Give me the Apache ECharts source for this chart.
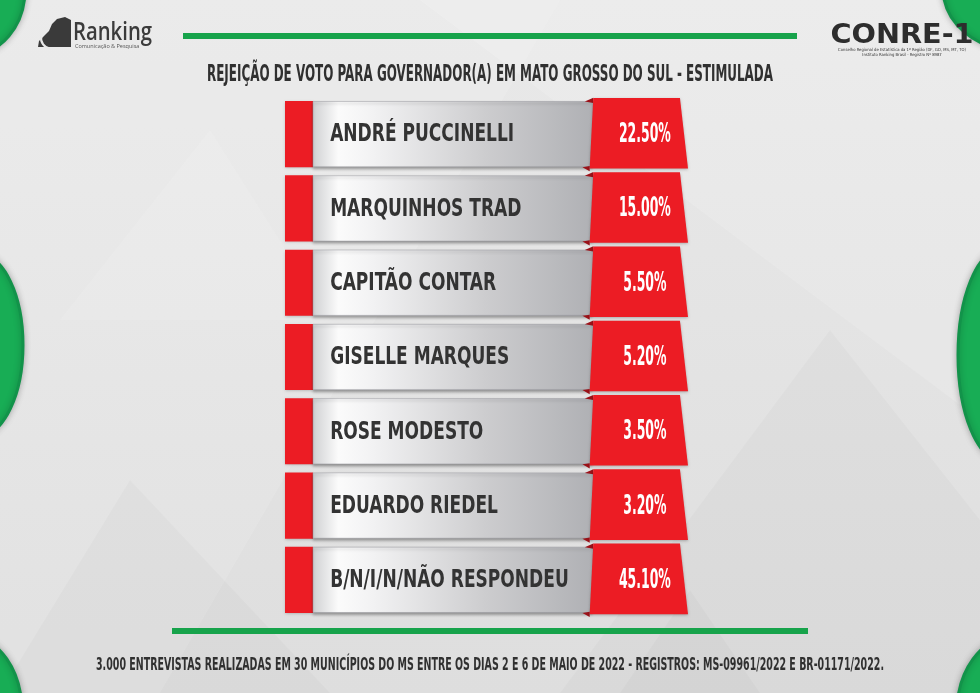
<!DOCTYPE html>
<html>
<head>
<meta charset="utf-8">
<script src="https://cdn.jsdelivr.net/npm/echarts@6/dist/echarts.min.js"></script>
<style>html,body{margin:0;padding:0;background:#e4e4e4;}#c{width:980px;height:693px;}</style>
</head>
<body>
<div id="c"></div>
<script>
const titleText = 'REJEIÇÃO DE VOTO PARA GOVERNADOR(A) EM MATO GROSSO DO SUL - ESTIMULADA';
const footerText = '3.000 ENTREVISTAS REALIZADAS EM 30 MUNICÍPIOS DO MS ENTRE OS DIAS 2 E 6 DE MAIO DE 2022 - REGISTROS: MS-09961/2022 E BR-01171/2022.';
const categories = ['ANDRÉ PUCCINELLI', 'MARQUINHOS TRAD', 'CAPITÃO CONTAR', 'GISELLE MARQUES', 'ROSE MODESTO', 'EDUARDO RIEDEL', 'B/N/I/N/NÃO RESPONDEU'];
const values = [22.5, 15.0, 5.5, 5.2, 3.5, 3.2, 45.1];

const NARROW = '"Liberation Sans Narrow", "DejaVu Sans Condensed", "Roboto", sans-serif';
const ctx = document.createElement('canvas').getContext('2d');
function fitScale(text, font, target) {
  ctx.font = font;
  const w = ctx.measureText(text).width;
  return w > 0 ? target / w : 1;
}
const titleScale = fitScale(titleText, 'bold 23px ' + NARROW, 566);
const footerScale = fitScale(footerText, 'bold 18px ' + NARROW, 788);
const nameScale = fitScale('ANDRÉ PUCCINELLI', 'bold 24px ' + NARROW, 184);
const valScale = fitScale('22.50%', 'bold 27px ' + NARROW, 52);
const rankScale = fitScale('Ranking', '600 26px "Open Sans", sans-serif', 79);
const conreScale = fitScale('CONRE-1', 'bold 26px ' + NARROW, 143);

const RED = '#ec1c24';
const GREEN = '#18ad55';
const GREEN_RIM = '#12934a';

const chart = echarts.init(document.getElementById('c'), null, {renderer: 'canvas'});

const greenStyle = {fill: GREEN, stroke: GREEN_RIM, lineWidth: 3, shadowBlur: 6, shadowColor: 'rgba(0,0,0,0.25)'};
const bg = [
  {type: 'rect', shape: {x: 0, y: 0, width: 980, height: 693}, style: {fill: new echarts.graphic.LinearGradient(0, 0, 0, 1, [{offset: 0, color: '#e9e9e9'}, {offset: 1, color: '#dedede'}])}, z: -10},
  {type: 'polygon', shape: {points: [[0, 0], [560, 0], [160, 693], [0, 693]]}, style: {fill: 'rgba(255,255,255,0.12)'}, z: -9},
  {type: 'polygon', shape: {points: [[420, 0], [980, 0], [980, 420]]}, style: {fill: 'rgba(255,255,255,0.14)'}, z: -9},
  {type: 'polygon', shape: {points: [[0, 693], [130, 480], [330, 693]]}, style: {fill: 'rgba(0,0,0,0.02)'}, z: -9},
  {type: 'polygon', shape: {points: [[560, 693], [830, 330], [980, 520], [980, 693]]}, style: {fill: 'rgba(0,0,0,0.018)'}, z: -9},
  {type: 'polygon', shape: {points: [[60, 320], [210, 130], [330, 320]]}, style: {fill: 'rgba(255,255,255,0.1)'}, z: -9},
  {type: 'polygon', shape: {points: [[620, 693], [690, 590], [760, 693]]}, style: {fill: 'rgba(0,0,0,0.02)'}, z: -9},
  // green corner / edge shapes
  {type: 'ellipse', shape: {cx: -30, cy: -10, rx: 55, ry: 65}, style: greenStyle, z: -5},
  {type: 'ellipse', shape: {cx: 1015, cy: -12, rx: 72, ry: 62}, style: greenStyle, z: -5},
  {type: 'ellipse', shape: {cx: -20, cy: 345, rx: 43, ry: 90}, style: greenStyle, z: -5},
  {type: 'ellipse', shape: {cx: 1001, cy: 355, rx: 43, ry: 105}, style: greenStyle, z: -5},
  {type: 'ellipse', shape: {cx: -30, cy: 712, rx: 52, ry: 75}, style: greenStyle, z: -5},
  {type: 'ellipse', shape: {cx: 1012, cy: 712, rx: 55, ry: 75}, style: greenStyle, z: -5},
  // green rules
  {type: 'rect', shape: {x: 183, y: 33, width: 614, height: 6}, style: {fill: '#17a34b'}, z: 1},
  {type: 'rect', shape: {x: 172, y: 628, width: 636, height: 6}, style: {fill: '#17a34b'}, z: 1},
  // Ranking logo
  {type: 'polygon', shape: {points: [[38, 47], [39, 41], [45, 35], [49, 31], [52, 24], [57, 19], [65, 17], [71, 20], [71, 47]]}, style: {fill: '#3a3a3a'}, z: 2},
  {type: 'arc', shape: {cx: 52, cy: 38, r: 11, startAngle: Math.PI * 0.55, endAngle: Math.PI * 1.05}, style: {stroke: '#e8e8e8', lineWidth: 2.2, fill: null}, z: 3},
  {type: 'text', x: 73, y: 33, scaleX: rankScale, style: {text: 'Ranking', fontSize: 26, fontWeight: 600, fontFamily: '"Open Sans", sans-serif', fill: '#3b3b3b', align: 'left', verticalAlign: 'middle'}, z: 2},
  {type: 'text', x: 75, y: 46.5, style: {text: 'Comunicação & Pesquisa', fontSize: 5.5, fontFamily: '"Open Sans", sans-serif', fill: '#555', align: 'left', verticalAlign: 'middle'}, z: 2},
  // CONRE-1 logo
  {type: 'text', x: 902, y: 36, scaleX: conreScale, style: {text: 'CONRE-1', fontSize: 26, fontWeight: 'bold', fontFamily: NARROW, fill: '#2d2d2d', align: 'center', verticalAlign: 'middle'}, z: 2},
  {type: 'text', x: 902, y: 50, style: {text: 'Conselho Regional de Estatística da 1ª Região (DF, GO, MS, MT, TO)', fontSize: 4.2, fontFamily: NARROW, fill: '#333', align: 'center', verticalAlign: 'middle'}, z: 2},
  {type: 'text', x: 902, y: 55, style: {text: 'Instituto Ranking Brasil - Registro Nº 8987', fontSize: 4.2, fontFamily: NARROW, fill: '#333', align: 'center', verticalAlign: 'middle'}, z: 2},
  // title & footer
  {type: 'text', x: 490, y: 75, scaleX: titleScale, style: {text: titleText, fontSize: 23, fontWeight: 'bold', fontFamily: NARROW, fill: '#303030', align: 'center', verticalAlign: 'middle'}, z: 2},
  {type: 'text', x: 490, y: 665.5, scaleX: footerScale, style: {text: footerText, fontSize: 18, fontWeight: 'bold', fontFamily: NARROW, fill: '#303030', align: 'center', verticalAlign: 'middle'}, z: 2}
];

function renderItem(params, api) {
  const idx = api.value(1);
  const p0 = api.coord([0, idx]);
  const p1 = api.coord([100, idx]);
  const L = p0[0], R = p1[0], c = p0[1];
  const W = R - L;
  const h = api.size([0, 1])[1];
  const label = categories[params.dataIndex];
  const val = api.value(0).toFixed(2) + '%';
  const silverGrad = new echarts.graphic.LinearGradient(0, 0, 1, 0, [
    {offset: 0, color: '#cfd0d2'},
    {offset: 0.09, color: '#fbfbfb'},
    {offset: 0.2, color: '#f3f3f4'},
    {offset: 0.6, color: '#cdcdcf'},
    {offset: 1, color: '#aeafb3'}
  ]);
  return {
    type: 'group',
    children: [
      {type: 'rect', shape: {x: L, y: c - 0.445 * h, width: 0.0695 * W, height: 0.89 * h},
        style: {fill: RED, shadowBlur: 3, shadowColor: 'rgba(0,0,0,0.25)', shadowOffsetY: 1}},
      {type: 'polygon', shape: {points: [[L + 0.0695 * W, c - 0.44 * h], [L + 0.776 * W, c - 0.44 * h], [L + 0.76 * W, c + 0.44 * h], [L + 0.0695 * W, c + 0.44 * h]]},
        style: {fill: silverGrad, stroke: 'rgba(150,150,155,0.6)', lineWidth: 0.8, shadowBlur: 3, shadowColor: 'rgba(0,0,0,0.35)', shadowOffsetY: 2}},
      {type: 'polygon', shape: {points: [[L + 0.744 * W, c - 0.44 * h], [L + 0.765 * W, c - 0.49 * h], [L + 0.765 * W, c - 0.42 * h]]},
        style: {fill: '#9c1118'}},
      {type: 'polygon', shape: {points: [[L + 0.738 * W, c + 0.445 * h], [L + 0.756 * W, c + 0.43 * h], [L + 0.756 * W, c + 0.5 * h]]},
        style: {fill: '#9c1118'}},
      {type: 'polygon', shape: {points: [[L + 0.765 * W, c - 0.488 * h], [L + 0.98 * W, c - 0.488 * h], [R, c + 0.462 * h], [L + 0.756 * W, c + 0.462 * h]]},
        style: {fill: RED, shadowBlur: 3, shadowColor: 'rgba(0,0,0,0.25)', shadowOffsetY: 1}},
      {type: 'text', x: L + 0.112 * W, y: c + 1, scaleX: nameScale,
        style: {text: label, fontSize: 24, fontWeight: 'bold', fontFamily: NARROW, fill: '#333333', align: 'left', verticalAlign: 'middle'}},
      {type: 'text', x: L + 0.893 * W, y: c + 1, scaleX: valScale,
        style: {text: val, fontSize: 27, fontWeight: 'bold', fontFamily: NARROW, fill: '#ffffff', align: 'center', verticalAlign: 'middle'}}
    ]
  };
}

chart.setOption({
  backgroundColor: '#e4e4e4',
  animation: false,
  graphic: {elements: bg},
  grid: {left: 285, right: 292, top: 97, bottom: 76},
  xAxis: {type: 'value', min: 0, max: 100, show: false},
  yAxis: {type: 'category', data: categories, inverse: true, show: false},
  series: [{
    type: 'custom',
    renderItem: renderItem,
    encode: {x: 0, y: 1},
    data: values.map((v, i) => [v, i]),
    z: 5
  }]
});
</script>
</body>
</html>
